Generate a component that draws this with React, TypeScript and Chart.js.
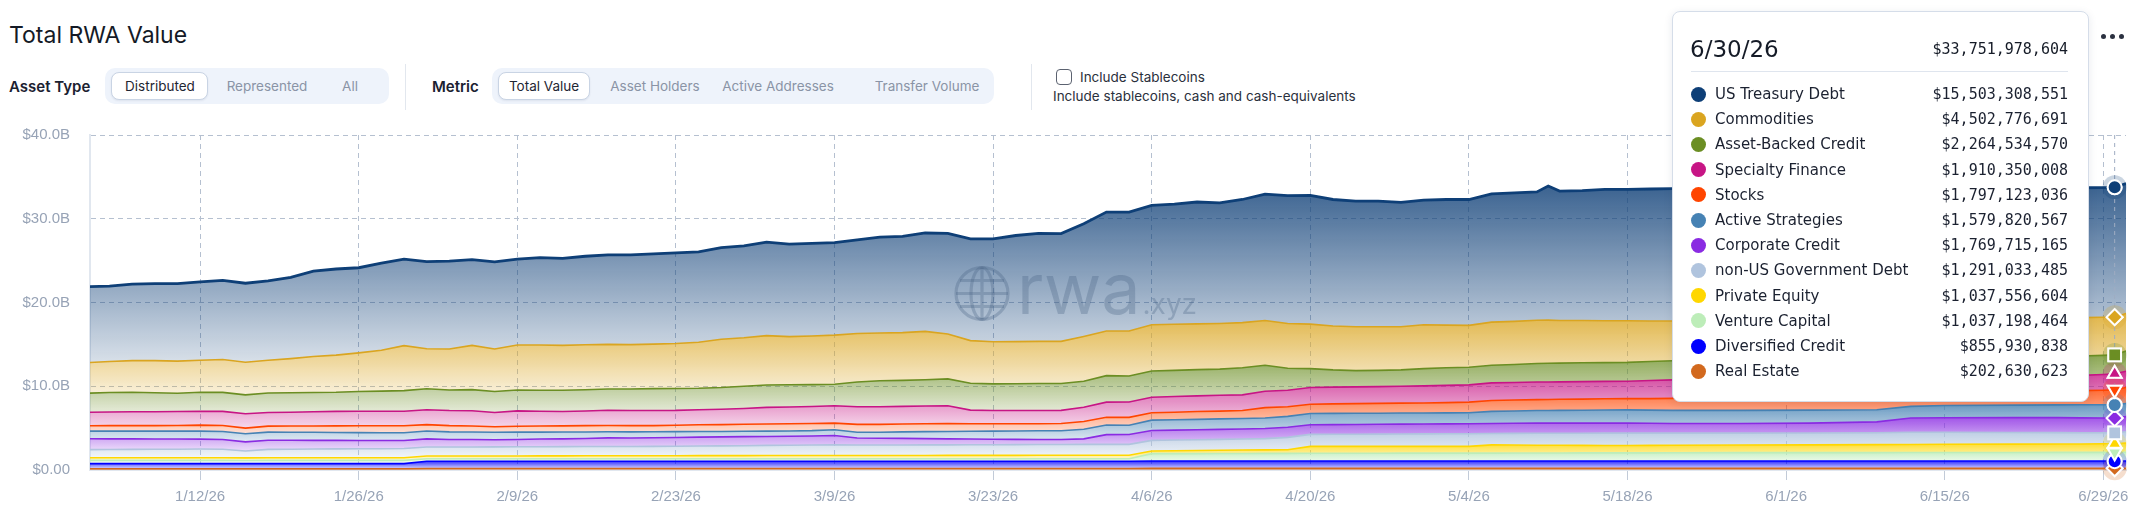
import React, { useEffect, useRef } from 'react';
import { Chart, registerables } from 'chart.js';

Chart.register(...registerables);

// ---------- DATA ----------
const dates = [
  '2026-01-02', '2026-01-04', '2026-01-06', '2026-01-08', '2026-01-10', '2026-01-12', '2026-01-14', '2026-01-16',
  '2026-01-18', '2026-01-20', '2026-01-22', '2026-01-24', '2026-01-26', '2026-01-28', '2026-01-30',
  '2026-02-01', '2026-02-03', '2026-02-05', '2026-02-07', '2026-02-09', '2026-02-11', '2026-02-13', '2026-02-15',
  '2026-02-17', '2026-02-19', '2026-02-21', '2026-02-23', '2026-02-25', '2026-02-27', '2026-03-01', '2026-03-03',
  '2026-03-05', '2026-03-07', '2026-03-09', '2026-03-11', '2026-03-13', '2026-03-15', '2026-03-17', '2026-03-19',
  '2026-03-21', '2026-03-23', '2026-03-25', '2026-03-27', '2026-03-29', '2026-03-31', '2026-04-02', '2026-04-04',
  '2026-04-06', '2026-04-08', '2026-04-10', '2026-04-12', '2026-04-14', '2026-04-16', '2026-04-18', '2026-04-20',
  '2026-04-22', '2026-04-24', '2026-04-26', '2026-04-28', '2026-04-30', '2026-05-02', '2026-05-04', '2026-05-06',
  '2026-05-08', '2026-05-10', '2026-05-11', '2026-05-12', '2026-05-14', '2026-05-16', '2026-05-18', '2026-05-20',
  '2026-05-22', '2026-05-28', '2026-06-03', '2026-06-09', '2026-06-12', '2026-06-15', '2026-06-21', '2026-06-25',
  '2026-06-27', '2026-06-29',
  '2026-06-30', '2026-07-01',
];

// values in billions of USD
const usTreasuryDebt = [
  9.08, 9.00, 9.14, 9.19, 9.25, 9.36, 9.45, 9.44, 9.48, 9.70, 10.20, 10.28, 10.17, 10.40, 10.32,
  10.40, 10.50, 10.24, 10.40, 10.25, 10.43, 10.40, 10.57, 10.68, 10.71, 10.77, 10.82, 10.80, 10.93, 10.95, 11.15,
  11.05, 11.05, 11.04, 11.17, 11.45, 11.50, 11.75, 12.01, 12.15, 12.27, 12.67, 12.90, 12.86, 13.45, 14.20, 14.20,
  14.25, 14.35, 14.55, 14.40, 14.70, 15.10, 15.25, 15.38, 15.10, 15.00, 15.00, 14.85, 14.87, 15.00, 15.03, 15.32,
  15.35, 15.32, 16.00, 15.45, 15.50, 15.68, 15.68, 15.75, 15.80, 15.75, 15.70, 15.60, 15.60, 15.60, 15.55, 15.50,
  15.50, 15.48,
  15.503308551, 15.50,
];
const commodities = [
  3.65, 3.70, 3.77, 3.84, 3.83, 3.81, 3.93, 3.89, 3.90, 4.08, 4.30, 4.44, 4.61, 4.88, 5.37,
  4.78, 4.90, 5.28, 5.07, 5.37, 5.39, 5.36, 5.37, 5.32, 5.29, 5.31, 5.36, 5.49, 5.77, 5.80, 5.90,
  5.74, 5.80, 5.86, 5.80, 5.70, 5.70, 5.77, 5.36, 5.10, 5.04, 5.03, 5.04, 5.04, 5.35, 5.33, 5.37,
  5.52, 5.50, 5.47, 5.45, 5.40, 5.35, 5.35, 5.32, 5.25, 5.23, 5.20, 5.15, 5.25, 5.10, 5.00, 5.16,
  5.15, 5.16, 5.16, 5.09, 5.05, 5.00, 4.97, 4.85, 4.75, 4.70, 4.70, 4.65, 4.65, 4.65, 4.60, 4.60,
  4.58, 4.54,
  4.502776691, 4.50,
];
const assetBackedCredit = [
  2.27, 2.33, 2.34, 2.27, 2.19, 2.27, 2.27, 2.26, 2.34, 2.32, 2.30, 2.28, 2.35, 2.40, 2.46,
  2.50, 2.45, 2.52, 2.52, 2.49, 2.51, 2.54, 2.53, 2.54, 2.58, 2.62, 2.62, 2.56, 2.60, 2.65, 2.67,
  2.66, 2.62, 2.57, 2.95, 3.10, 3.10, 3.14, 3.21, 3.20, 3.18, 3.20, 3.22, 3.20, 3.10, 3.17, 3.11,
  3.14, 3.12, 3.13, 3.13, 3.23, 3.10, 2.63, 2.25, 2.05, 1.94, 1.94, 1.95, 2.05, 2.10, 2.11, 2.10,
  2.15, 2.22, 2.24, 2.24, 2.25, 2.24, 2.25, 2.27, 2.29, 2.30, 2.30, 2.35, 2.35, 2.35, 2.35, 2.35,
  2.32, 2.28,
  2.26453457, 2.40,
];
const specialtyFinance = [
  1.62, 1.62, 1.65, 1.65, 1.66, 1.66, 1.68, 1.71, 1.62, 1.65, 1.69, 1.73, 1.74, 1.74, 1.74,
  1.78, 1.80, 1.83, 1.70, 1.84, 1.77, 1.71, 1.75, 1.82, 1.80, 1.80, 1.77, 1.80, 1.83, 1.89, 1.98,
  2.00, 2.03, 2.07, 2.10, 2.10, 2.10, 2.11, 2.11, 1.63, 1.58, 1.58, 1.58, 1.57, 1.70, 1.80, 1.84,
  1.86, 1.88, 1.87, 1.89, 1.87, 1.95, 1.97, 2.00, 2.00, 2.00, 2.00, 2.02, 2.05, 2.05, 2.06, 2.10,
  2.10, 2.10, 2.08, 2.08, 2.09, 2.08, 2.08, 2.16, 2.21, 2.10, 2.00, 1.90, 1.85, 1.85, 1.85, 1.80,
  1.82, 1.88,
  1.910350008, 1.95,
];
const stocks = [
  0.64, 0.66, 0.66, 0.66, 0.68, 0.72, 0.72, 0.67, 0.72, 0.75, 0.76, 0.79, 0.82, 0.83, 0.84,
  0.76, 0.75, 0.71, 0.66, 0.70, 0.73, 0.74, 0.76, 0.76, 0.75, 0.74, 0.77, 0.80, 0.82, 0.84, 0.86,
  0.86, 0.85, 0.80, 0.95, 0.95, 0.95, 0.95, 0.96, 0.90, 0.88, 0.86, 0.84, 0.87, 0.94, 0.92, 0.94,
  0.88, 0.90, 0.93, 0.93, 0.95, 1.25, 1.15, 1.10, 1.14, 1.16, 1.18, 1.18, 1.19, 1.23, 1.27, 1.30,
  1.30, 1.30, 1.32, 1.32, 1.32, 1.34, 1.34, 1.37, 1.43, 1.63, 1.80, 1.90, 1.60, 1.55, 1.60, 1.67,
  1.68, 1.74,
  1.797123036, 1.90,
];
const activeStrategies = [
  0.91, 0.92, 0.92, 0.93, 0.94, 0.95, 0.95, 0.97, 0.97, 0.95, 0.96, 0.94, 0.93, 0.92, 0.91,
  0.94, 0.90, 0.90, 0.88, 0.87, 0.82, 0.81, 0.78, 0.73, 0.73, 0.71, 0.70, 0.68, 0.65, 0.64, 0.64,
  0.63, 0.64, 0.68, 0.68, 0.70, 0.77, 0.83, 0.88, 0.92, 0.96, 1.00, 1.03, 1.03, 1.14, 1.16, 1.10,
  1.23, 1.24, 1.25, 1.25, 1.25, 1.25, 1.30, 1.35, 1.34, 1.33, 1.32, 1.32, 1.31, 1.31, 1.31, 1.44,
  1.47, 1.50, 1.50, 1.52, 1.54, 1.56, 1.58, 1.57, 1.56, 1.56, 1.55, 1.45, 1.40, 1.46, 1.50, 1.53,
  1.58, 1.58,
  1.579820567, 1.58,
];
const corporateCredit = [
  1.30, 1.27, 1.26, 1.24, 1.22, 1.19, 1.17, 1.10, 1.09, 1.07, 1.04, 1.02, 1.00, 0.99, 0.97,
  0.98, 0.91, 0.89, 0.86, 0.88, 0.92, 0.93, 0.96, 1.02, 1.02, 1.03, 1.04, 1.06, 1.07, 1.08, 1.06,
  1.07, 1.08, 1.10, 0.84, 0.82, 0.79, 0.75, 0.72, 0.69, 0.66, 0.63, 0.61, 0.61, 0.66, 1.16, 1.18,
  1.18, 1.18, 1.18, 1.19, 1.20, 1.20, 1.20, 1.15, 1.16, 1.17, 1.18, 1.18, 1.19, 1.19, 1.19, 1.20,
  1.21, 1.22, 1.22, 1.21, 1.21, 1.20, 1.20, 1.18, 1.16, 1.16, 1.18, 1.30, 1.70, 1.74, 1.77, 1.79,
  1.77, 1.77,
  1.769715165, 1.80,
];
const nonUsGovernmentDebt = [
  0.96, 0.98, 0.99, 1.00, 1.01, 1.03, 1.01, 0.81, 0.99, 1.01, 1.03, 1.05, 1.06, 1.07, 1.09,
  1.07, 1.07, 1.07, 1.08, 1.09, 1.09, 1.10, 1.10, 1.11, 1.10, 1.11, 1.13, 1.14, 1.16, 1.18, 1.21,
  1.23, 1.25, 1.29, 1.25, 1.24, 1.25, 1.26, 1.25, 1.26, 1.27, 1.28, 1.28, 1.28, 1.30, 1.30, 1.30,
  1.28, 1.28, 1.29, 1.30, 1.32, 1.35, 1.48, 1.43, 1.44, 1.45, 1.46, 1.48, 1.49, 1.50, 1.51, 1.36,
  1.39, 1.42, 1.42, 1.44, 1.45, 1.47, 1.48, 1.46, 1.45, 1.42, 1.42, 1.42, 1.45, 1.43, 1.39, 1.36,
  1.34, 1.31,
  1.291033485, 1.35,
];
const privateEquity = [
  0.32, 0.32, 0.32, 0.32, 0.32, 0.32, 0.32, 0.31, 0.32, 0.32, 0.32, 0.32, 0.32, 0.32, 0.32,
  0.32, 0.32, 0.33, 0.33, 0.33, 0.34, 0.34, 0.35, 0.35, 0.35, 0.36, 0.36, 0.37, 0.37, 0.37, 0.38,
  0.38, 0.38, 0.38, 0.38, 0.39, 0.39, 0.39, 0.40, 0.40, 0.40, 0.40, 0.41, 0.41, 0.41, 0.41, 0.41,
  0.31, 0.34, 0.37, 0.39, 0.41, 0.42, 0.44, 0.82, 0.82, 0.82, 0.82, 0.81, 0.81, 0.81, 0.80, 0.98,
  0.95, 0.93, 0.93, 0.92, 0.90, 0.89, 0.87, 0.89, 0.89, 0.91, 0.92, 0.95, 0.96, 0.98, 1.00, 1.00,
  1.01, 1.02,
  1.037556604, 1.10,
];
const ventureCapital = [
  0.39, 0.39, 0.39, 0.39, 0.39, 0.39, 0.39, 0.38, 0.39, 0.39, 0.39, 0.39, 0.39, 0.39, 0.39,
  0.31, 0.31, 0.31, 0.31, 0.31, 0.31, 0.31, 0.31, 0.31, 0.31, 0.31, 0.31, 0.31, 0.31, 0.31, 0.31,
  0.31, 0.31, 0.31, 0.31, 0.31, 0.31, 0.31, 0.31, 0.31, 0.31, 0.31, 0.31, 0.31, 0.31, 0.31, 0.31,
  0.88, 0.89, 0.89, 0.90, 0.90, 0.91, 0.91, 0.93, 0.93, 0.93, 0.93, 0.94, 0.94, 0.94, 0.95, 0.95,
  0.96, 0.96, 0.96, 0.96, 0.97, 0.97, 0.98, 0.98, 0.99, 1.00, 1.01, 1.01, 1.02, 1.02, 1.02, 1.03,
  1.03, 1.04,
  1.037198464, 1.05,
];
const diversifiedCredit = [
  0.61, 0.61, 0.61, 0.61, 0.61, 0.61, 0.61, 0.61, 0.61, 0.61, 0.61, 0.61, 0.61, 0.61, 0.61,
  0.86, 0.86, 0.86, 0.86, 0.86, 0.86, 0.86, 0.86, 0.86, 0.86, 0.86, 0.86, 0.86, 0.86, 0.86, 0.86,
  0.86, 0.86, 0.86, 0.86, 0.86, 0.86, 0.86, 0.86, 0.86, 0.86, 0.86, 0.86, 0.86, 0.86, 0.86, 0.86,
  0.87, 0.87, 0.87, 0.87, 0.87, 0.87, 0.87, 0.87, 0.87, 0.87, 0.87, 0.87, 0.87, 0.87, 0.87, 0.87,
  0.87, 0.87, 0.87, 0.87, 0.87, 0.87, 0.87, 0.87, 0.87, 0.87, 0.87, 0.87, 0.87, 0.87, 0.87, 0.87,
  0.87, 0.87,
  0.855930838, 0.87,
];
const realEstate = [
  0.15, 0.15, 0.15, 0.15, 0.15, 0.15, 0.15, 0.15, 0.15, 0.15, 0.15, 0.15, 0.15, 0.15, 0.15,
  0.18, 0.18, 0.18, 0.18, 0.18, 0.18, 0.18, 0.18, 0.18, 0.18, 0.18, 0.18, 0.18, 0.18, 0.18, 0.18,
  0.18, 0.18, 0.18, 0.18, 0.18, 0.18, 0.18, 0.18, 0.18, 0.18, 0.18, 0.18, 0.18, 0.18, 0.18, 0.18,
  0.20, 0.20, 0.20, 0.20, 0.20, 0.20, 0.20, 0.20, 0.20, 0.20, 0.20, 0.20, 0.20, 0.20, 0.20, 0.20,
  0.20, 0.20, 0.20, 0.20, 0.20, 0.20, 0.20, 0.20, 0.20, 0.20, 0.20, 0.20, 0.20, 0.20, 0.20, 0.20,
  0.20, 0.20,
  0.202630623, 0.20,
];

const tickDates = [
  '2026-01-12', '2026-01-26', '2026-02-09', '2026-02-23', '2026-03-09', '2026-03-23', '2026-04-06',
  '2026-04-20', '2026-05-04', '2026-05-18', '2026-06-01', '2026-06-15', '2026-06-29',
];
const tickLabels = ['1/12/26', '1/26/26', '2/9/26', '2/23/26', '3/9/26', '3/23/26', '4/6/26', '4/20/26', '5/4/26', '5/18/26', '6/1/26', '6/15/26', '6/29/26'];
const yTicks = [0, 10, 20, 30, 40];
const yTickLabels = ['$0.00', '$10.0B', '$20.0B', '$30.0B', '$40.0B'];

const hoverDate = '2026-06-30';
const hoverDateLabel = '6/30/26';
const hoverTotal = 33751978604;

const assetTypes = ['Distributed', 'Represented', 'All'];
const metrics = ['Total Value', 'Asset Holders', 'Active Addresses', 'Transfer Volume'];

// legend order (top of stack first)
const series = [
  { name: 'US Treasury Debt', color: '#0E3F77', data: usTreasuryDebt, pointStyle: 'circle', rotation: 0, radius: 7 },
  { name: 'Commodities', color: '#DAA520', data: commodities, pointStyle: 'rectRot', rotation: 0, radius: 8 },
  { name: 'Asset-Backed Credit', color: '#6B8E23', data: assetBackedCredit, pointStyle: 'rect', rotation: 0, radius: 9 },
  { name: 'Specialty Finance', color: '#C71585', data: specialtyFinance, pointStyle: 'triangle', rotation: 0, radius: 8 },
  { name: 'Stocks', color: '#FF4500', data: stocks, pointStyle: 'triangle', rotation: 180, radius: 8 },
  { name: 'Active Strategies', color: '#4682B4', data: activeStrategies, pointStyle: 'circle', rotation: 0, radius: 7 },
  { name: 'Corporate Credit', color: '#8A2BE2', data: corporateCredit, pointStyle: 'rectRot', rotation: 0, radius: 8 },
  { name: 'non-US Government Debt', color: '#B0C4DE', data: nonUsGovernmentDebt, pointStyle: 'rect', rotation: 0, radius: 9 },
  { name: 'Private Equity', color: '#FFD700', data: privateEquity, pointStyle: 'triangle', rotation: 0, radius: 8 },
  { name: 'Venture Capital', color: '#BDEDB9', data: ventureCapital, pointStyle: 'triangle', rotation: 180, radius: 8 },
  { name: 'Diversified Credit', color: '#0000FF', data: diversifiedCredit, pointStyle: 'circle', rotation: 0, radius: 7 },
  { name: 'Real Estate', color: '#D2691E', data: realEstate, pointStyle: 'rectRot', rotation: 0, radius: 8 },
];

// ---------- HELPERS ----------
const toDay = (s: string) => {
  const [y, m, d] = s.split('-').map(Number);
  const [y0, m0, d0] = dates[0].split('-').map(Number);
  return Math.round((Date.UTC(y, m - 1, d) - Date.UTC(y0, m0 - 1, d0)) / 86400000);
};
const hexToRgba = (hex: string, a: number) => {
  const n = parseInt(hex.slice(1), 16);
  return `rgba(${(n >> 16) & 255},${(n >> 8) & 255},${n & 255},${a})`;
};
const fmtUsd = (billions: number) => '$' + Math.round(billions * 1e9).toLocaleString('en-US');
const hoverIndex = dates.indexOf(hoverDate);

const UI_FONT = 'Inter, "Noto Sans", sans-serif';
const AXIS_FONT = '"Liberation Sans", Arial, sans-serif';

export default function App() {
  const canvasRef = useRef<HTMLCanvasElement | null>(null);

  useEffect(() => {
    document.body.style.margin = '0';
    const canvas = canvasRef.current;
    if (!canvas) return;

    const stack = [...series].reverse(); // bottom first
    const cum: number[][] = [];
    stack.forEach((s, k) => {
      cum.push(s.data.map((v, i) => v + (k > 0 ? cum[k - 1][i] : 0)));
    });
    const bandTop = cum.map((c) => Math.max(...c));
    const bandBottom = cum.map((_c, k) => (k === 0 ? 0 : Math.min(...cum[k - 1])));

    const datasets = stack.map((s, k) => ({
      label: s.name,
      data: s.data.map((v, i) => ({ x: toDay(dates[i]), y: v })),
      borderColor: s.color,
      borderWidth: k === stack.length - 1 ? 2.8 : 1.6,
      fill: k === 0 ? 'origin' : '-1',
      backgroundColor: (ctx: any) => {
        const chart = ctx.chart;
        const ys = chart.scales && chart.scales.y;
        if (!chart.chartArea || !ys) return hexToRgba(s.color, 0.4);
        const y1 = ys.getPixelForValue(bandTop[k]);
        const y2 = ys.getPixelForValue(bandBottom[k]);
        if (!isFinite(y1) || !isFinite(y2) || y1 === y2) return hexToRgba(s.color, 0.4);
        const g = chart.ctx.createLinearGradient(0, y1, 0, y2);
        g.addColorStop(0, hexToRgba(s.color, 0.82));
        g.addColorStop(1, hexToRgba(s.color, 0.16));
        return g;
      },
      tension: 0,
      pointRadius: (c: any) => (c.dataIndex === hoverIndex ? s.radius : 0),
      pointHoverRadius: (c: any) => (c.dataIndex === hoverIndex ? s.radius : 0),
      pointStyle: s.pointStyle,
      pointRotation: s.rotation,
      pointBackgroundColor: s.color,
      pointBorderColor: '#ffffff',
      pointBorderWidth: 2,
    }));

    const overlay = {
      id: 'overlay',
      afterDatasetsDraw(chart: any) {
        const { ctx, chartArea: a } = chart;
        // watermark
        ctx.save();
        const mx = (a.left + a.right) / 2;
        const my = (a.top + a.bottom) / 2;
        const gx = mx - 126;
        const gy = my - 9;
        const wm = 'rgba(70,95,130,0.30)';
        ctx.strokeStyle = wm;
        ctx.lineWidth = 3.2;
        ctx.beginPath();
        ctx.arc(gx, gy, 26, 0, Math.PI * 2);
        ctx.stroke();
        ctx.beginPath();
        ctx.ellipse(gx, gy, 11, 26, 0, 0, Math.PI * 2);
        ctx.stroke();
        ctx.beginPath();
        ctx.moveTo(gx, gy - 26);
        ctx.lineTo(gx, gy + 26);
        ctx.moveTo(gx - 26, gy);
        ctx.lineTo(gx + 26, gy);
        ctx.moveTo(gx - 22, gy - 13);
        ctx.lineTo(gx + 22, gy - 13);
        ctx.moveTo(gx - 22, gy + 13);
        ctx.lineTo(gx + 22, gy + 13);
        ctx.stroke();
        ctx.fillStyle = wm;
        ctx.textBaseline = 'alphabetic';
        ctx.font = '400 70px Inter';
        ctx.fillText('rwa', gx + 35, my + 11);
        const w = ctx.measureText('rwa').width;
        ctx.font = '400 28px Inter';
        ctx.fillText('.xyz', gx + 37 + w, my + 11);
        ctx.restore();

        // crosshair
        const xPix = chart.scales.x.getPixelForValue(toDay(hoverDate));
        ctx.save();
        ctx.setLineDash([4, 4]);
        ctx.strokeStyle = '#9fadc2';
        ctx.lineWidth = 1;
        ctx.beginPath();
        ctx.moveTo(xPix, a.top);
        ctx.lineTo(xPix, a.bottom);
        ctx.stroke();
        ctx.restore();

        // halos + markers
        ctx.save();
        stack.forEach((s, k) => {
          const el = chart.getDatasetMeta(k).data[hoverIndex];
          if (!el) return;
          ctx.beginPath();
          ctx.arc(el.x, el.y, 12, 0, Math.PI * 2);
          ctx.fillStyle = hexToRgba(s.color, 0.22);
          ctx.fill();
        });
        ctx.restore();
        stack.forEach((_s, k) => {
          const el = chart.getDatasetMeta(k).data[hoverIndex];
          if (el) el.draw(ctx, a);
        });
      },
    };

    const chart = new Chart(canvas, {
      type: 'line',
      data: { datasets: datasets as any },
      options: {
        animation: false,
        responsive: true,
        maintainAspectRatio: false,
        events: [],
        layout: { padding: { top: 13.7, right: 16, left: 0, bottom: 0 } },
        plugins: { legend: { display: false }, tooltip: { enabled: false } },
        scales: {
          x: {
            type: 'linear',
            min: 0.28,
            max: toDay(dates[dates.length - 1]),
            afterBuildTicks: (scale: any) => {
              scale.ticks = tickDates.map((d) => ({ value: toDay(d) }));
            },
            afterFit: (scale: any) => {
              scale.height = 40;
            },
            ticks: {
              autoSkip: false,
              maxRotation: 0,
              padding: 8,
              color: '#97a3b6',
              font: { family: AXIS_FONT, size: 15 },
              callback: (_v: any, i: number) => tickLabels[i],
            },
            grid: { color: '#b5c0d0', lineWidth: 1, tickLength: 10, tickColor: '#c2cbd8', tickBorderDash: [] },
            border: { display: true, color: '#e1e7ef', width: 2, dash: [5, 4] },
          },
          y: {
            stacked: true,
            min: 0,
            max: 40,
            afterBuildTicks: (scale: any) => {
              scale.ticks = yTicks.map((v) => ({ value: v }));
            },
            afterFit: (scale: any) => {
              scale.width = 90;
            },
            ticks: {
              padding: 20,
              color: '#97a3b6',
              font: { family: AXIS_FONT, size: 15 },
              callback: (_v: any, i: number) => yTickLabels[i],
            },
            grid: { color: '#b5c0d0', lineWidth: 1, drawTicks: false },
            border: { display: true, color: '#e1e7ef', width: 2, dash: [5, 4] },
          },
        },
      },
      plugins: [overlay],
    } as any);

    return () => chart.destroy();
  }, []);

  const seg = (items: string[], left: number, width: number, centers: number[], activeBox: [number, number]) => (
    <>
      <div style={{ position: 'absolute', left, top: 68, width, height: 36, background: '#eef3fb', borderRadius: 10 }} />
      <div
        style={{
          position: 'absolute', left: activeBox[0], top: 72, width: activeBox[1], height: 28, boxSizing: 'border-box',
          background: '#fff', border: '1px solid #c9d4e4', borderRadius: 8, boxShadow: '0 1px 2px rgba(20,40,80,0.08)',
        }}
      />
      {items.map((t, i) => (
        <div
          key={t}
          style={{
            position: 'absolute', left: centers[i], top: 86, transform: 'translate(-50%,-50%)', whiteSpace: 'nowrap',
            fontSize: 13.5, color: i === 0 ? '#1f2633' : '#8a94a6',
          }}
        >
          {t}
        </div>
      ))}
    </>
  );

  return (
    <div style={{ position: 'relative', width: 2142, height: 510, overflow: 'hidden', background: '#fff', fontFamily: UI_FONT, color: '#1b2130' }}>
      <div style={{ position: 'absolute', left: 9, top: 35, transform: 'translateY(-50%)', fontSize: 23, whiteSpace: 'nowrap', color: '#141a26' }}>
        Total RWA Value
      </div>

      <div style={{ position: 'absolute', left: 9, top: 86, transform: 'translateY(-50%)', fontSize: 15, fontWeight: 600, whiteSpace: 'nowrap' }}>Asset Type</div>
      {seg(assetTypes, 105, 284, [160, 267, 350], [111, 97])}
      <div style={{ position: 'absolute', left: 405, top: 64, width: 1, height: 46, background: '#e2e7ee' }} />

      <div style={{ position: 'absolute', left: 432, top: 86, transform: 'translateY(-50%)', fontSize: 15, fontWeight: 600, whiteSpace: 'nowrap' }}>Metric</div>
      {seg(metrics, 492, 502, [544, 655, 778, 927], [498, 92])}
      <div style={{ position: 'absolute', left: 1031, top: 64, width: 1, height: 46, background: '#e2e7ee' }} />

      <div style={{ position: 'absolute', left: 1056, top: 69, width: 16, height: 16, boxSizing: 'border-box', border: '1.5px solid #5b6270', borderRadius: 4 }} />
      <div style={{ position: 'absolute', left: 1080, top: 77, transform: 'translateY(-50%)', fontSize: 13.5, whiteSpace: 'nowrap', color: '#2a303c' }}>Include Stablecoins</div>
      <div style={{ position: 'absolute', left: 1053, top: 96, transform: 'translateY(-50%)', fontSize: 13.5, whiteSpace: 'nowrap', color: '#2a303c' }}>
        Include stablecoins, cash and cash-equivalents
      </div>

      <div style={{ position: 'absolute', left: 2101, top: 34, display: 'flex', gap: 4 }}>
        {[0, 1, 2].map((i) => (
          <div key={i} style={{ width: 5, height: 5, borderRadius: 3, background: '#2b3140' }} />
        ))}
      </div>

      <div style={{ position: 'absolute', left: 0, top: 106, width: 2142, height: 404 }}>
        <canvas ref={canvasRef} />
      </div>

      {/* hover tooltip */}
      <div
        style={{
          position: 'absolute', left: 1672, top: 11, width: 417, height: 391, boxSizing: 'border-box', background: '#fff',
          border: '1px solid #d5dde9', borderRadius: 8, boxShadow: '0 2px 8px rgba(30,50,90,0.10)', fontFamily: '"DejaVu Sans", sans-serif',
        }}
      >
        <div style={{ position: 'absolute', left: 17, top: 37, transform: 'translateY(-50%)', fontSize: 23, color: '#151b27' }}>{hoverDateLabel}</div>
        <div style={{ position: 'absolute', right: 20, top: 37, transform: 'translateY(-50%)', fontSize: 15, fontFamily: '"DejaVu Sans Mono", monospace', color: '#151b27' }}>
          {'$' + hoverTotal.toLocaleString('en-US')}
        </div>
        <div style={{ position: 'absolute', left: 18, right: 20, top: 59, height: 1, background: '#dfe5ee' }} />
        {series.map((s, i) => (
          <div key={s.name} style={{ position: 'absolute', left: 0, right: 0, top: 82 + i * 25.2, height: 0 }}>
            <div style={{ position: 'absolute', left: 18, top: -7.5, width: 15, height: 15, borderRadius: '50%', background: s.color }} />
            <div style={{ position: 'absolute', left: 42, top: 0, transform: 'translateY(-50%)', fontSize: 15, color: '#1b2130', whiteSpace: 'nowrap' }}>{s.name}</div>
            <div style={{ position: 'absolute', right: 20, top: 0, transform: 'translateY(-50%)', fontSize: 15, fontFamily: '"DejaVu Sans Mono", monospace', color: '#1b2130', whiteSpace: 'nowrap' }}>
              {fmtUsd(s.data[hoverIndex])}
            </div>
          </div>
        ))}
      </div>
    </div>
  );
}
